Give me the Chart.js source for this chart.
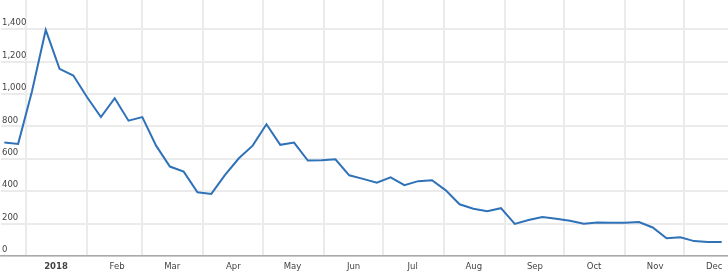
<!DOCTYPE html>
<html>
<head>
<meta charset="utf-8">
<script src="https://cdn.jsdelivr.net/npm/chart.js@4.4.1/dist/chart.umd.min.js"></script>
<style>
  html, body { margin: 0; padding: 0; background: #fff; }
  #wrap { width: 728px; height: 273px; position: relative; }
</style>
</head>
<body>
<div id="wrap"><canvas id="canvas"></canvas></div>
<script>
// weekly readings
const weekDates = [
  '2017-12-21', '2017-12-28', '2018-01-04', '2018-01-11', '2018-01-18', '2018-01-25',
  '2018-02-01', '2018-02-08', '2018-02-15', '2018-02-22', '2018-03-01', '2018-03-08',
  '2018-03-15', '2018-03-22', '2018-03-29', '2018-04-05', '2018-04-12', '2018-04-19',
  '2018-04-26', '2018-05-03', '2018-05-10', '2018-05-17', '2018-05-24', '2018-05-31',
  '2018-06-07', '2018-06-14', '2018-06-21', '2018-06-28', '2018-07-05', '2018-07-12',
  '2018-07-19', '2018-07-26', '2018-08-02', '2018-08-09', '2018-08-16', '2018-08-23',
  '2018-08-30', '2018-09-06', '2018-09-13', '2018-09-20', '2018-09-27', '2018-10-04',
  '2018-10-11', '2018-10-18', '2018-10-25', '2018-11-01', '2018-11-08', '2018-11-15',
  '2018-11-22', '2018-11-29', '2018-12-06', '2018-12-13', '2018-12-20'
]
const weekValues = [
  700, 692, 1015, 1395, 1155, 1114,
  980, 857, 974, 835, 857, 681,
  552, 521, 393, 383, 500, 603,
  681, 813, 686, 700, 589, 591,
  597, 498, 476, 453, 485, 437,
  462, 468, 405, 319, 292, 277,
  295, 198, 222, 241, 230, 218,
  199, 206, 205, 205, 210, 176,
  109, 115, 92, 86, 86
]
const monthStarts = [
  '2018-01-01', '2018-02-01', '2018-03-01', '2018-04-01', '2018-05-01', '2018-06-01',
  '2018-07-01', '2018-08-01', '2018-09-01', '2018-10-01', '2018-11-01', '2018-12-01'
]
const monthLabels = ['2018', 'Feb', 'Mar', 'Apr', 'May', 'Jun', 'Jul', 'Aug', 'Sep', 'Oct', 'Nov', 'Dec']
const yTickValues = [0, 200, 400, 600, 800, 1000, 1200, 1400]

// days counted from 1 Jan 2018
const dayOf = (s) => (Date.parse(s + 'T00:00:00Z') - Date.parse('2018-01-01T00:00:00Z')) / 86400000
const monthDays = monthStarts.map(dayOf)

const points = weekDates.map((d, i) => ({x: dayOf(d), y: weekValues[i]}))

const canvas = document.getElementById('canvas')
new Chart(canvas, {
  type: 'line',
  data: {
    datasets: [{
      data: points,
      borderColor: '#2f72b8',
      borderWidth: 2,
      pointRadius: 0,
      tension: 0,
      fill: false
    }]
  },
  options: {
    responsive: true,
    maintainAspectRatio: false,
    animation: false,
    layout: {padding: 0},
    plugins: {legend: {display: false}, tooltip: {enabled: false}},
    scales: {
      x: {
        type: 'linear',
        min: -12.7,
        max: 356.2,
        afterBuildTicks: (scale) => {
          scale.ticks = monthDays.map((v) => ({value: v}))
        },
        afterFit: (scale) => {
          scale.height = 17
        },
        grid: {color: '#ebebeb', lineWidth: 2, drawTicks: false},
        border: {display: true, color: '#aaaaaa', width: 1.5},
        ticks: {
          padding: 6,
          labelOffset: 30,
          maxRotation: 0,
          autoSkip: false,
          color: '#444',
          font: (ctx) => ({
            family: 'DejaVu Sans',
            size: 8.5,
            weight: ctx.tick && ctx.tick.label === '2018' ? 'bold' : 'normal'
          }),
          callback: (v) => monthLabels[monthDays.indexOf(v)]
        }
      },
      y: {
        min: 0,
        max: 1580,
        afterBuildTicks: (scale) => {
          scale.ticks = yTickValues.map((v) => ({value: v}))
        },
        afterFit: (scale) => {
          scale.width = 1
          scale.paddingTop = 0
          scale.paddingBottom = 0
        },
        grid: {color: '#ebebeb', lineWidth: 2, drawTicks: false},
        border: {display: false},
        ticks: {
          mirror: true,
          padding: 1,
          labelOffset: -6,
          autoSkip: false,
          color: '#444',
          font: {family: 'DejaVu Sans', size: 8.5}
        }
      }
    }
  }
})
</script>
</body>
</html>
